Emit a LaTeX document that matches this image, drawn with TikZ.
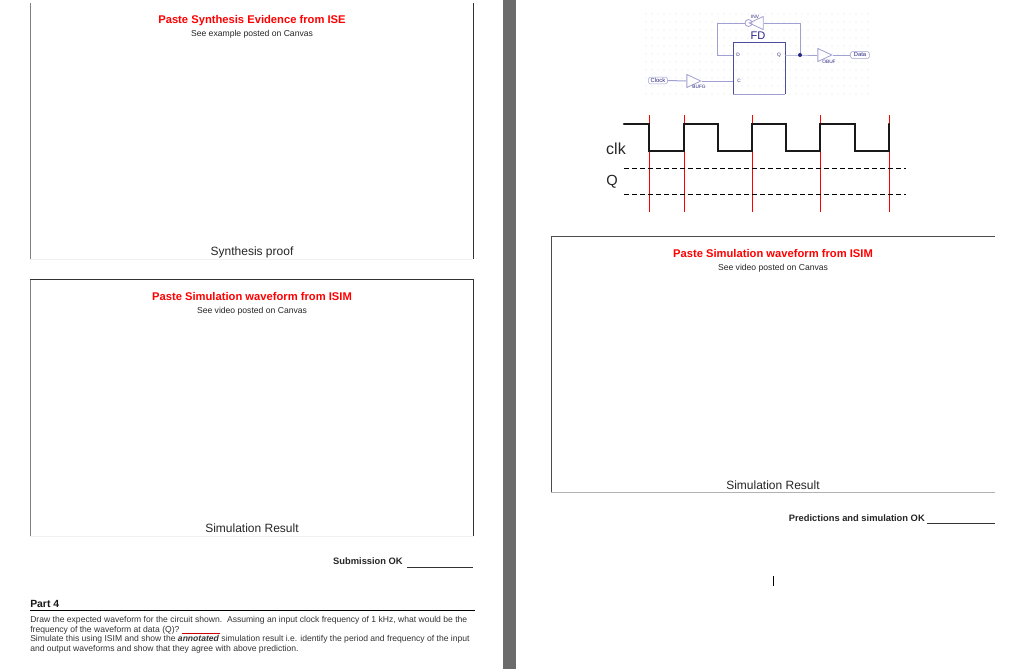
\documentclass[tikz,border=0pt]{standalone}
\usepackage{fontspec}
\setmainfont{Liberation Sans}
\usetikzlibrary{calc}
\usetikzlibrary{shapes.geometric}
\definecolor{schem}{RGB}{160,160,210}
\definecolor{schemdark}{RGB}{40,40,130}
\tikzset{
  title/.style={text=red,font=\bfseries\fontsize{8.4}{10}\selectfont,inner sep=0pt},
  hint/.style={text=black!85,font=\fontsize{6.45}{7.5}\selectfont,inner sep=0pt},
  caption/.style={text=black!85,font=\fontsize{9}{10}\selectfont,inner sep=0pt},
  okline/.style={text=black!85,font=\bfseries\fontsize{7}{8}\selectfont,inner sep=0pt},
  wire/.style={schem,line width=.75pt},
  buf/.style={draw=schem,line width=.6pt,isosceles triangle,isosceles triangle apex angle=50,minimum height=13*.75pt,minimum width=13*.75pt,inner sep=0pt},
  pin/.style={text=schemdark,font=\fontsize{3.6}{4}\selectfont,inner sep=0pt},
  port/.style={draw=schem,rounded corners=1pt,text=schemdark,font=\fontsize{4.4}{5}\selectfont,inner sep=0pt,minimum width=14pt,minimum height=5pt},
  clkline/.style={black!90,line width=1.8pt,line cap=round,line join=miter},
  qline/.style={black,line width=.6pt,dash pattern=on 3.5pt off 2.5pt}
}
\begin{document}
\begin{tikzpicture}[x=.75pt,y=-.75pt]
\useasboundingbox (0,0) rectangle (1024,669);
\fill[white] (0,0) rectangle (1024,669);
\fill[black!58] (503,0) rectangle (516,669);
% left page
\draw[black!50,line width=.6pt] (30,259)--(30,3);
\draw[black!80,line width=.6pt] (473,3)--(473,259);
\draw[black!6,line width=.6pt] (30,259)--(473,259);
\draw[black!50,line width=.6pt] (30,536)--(30,279);
\draw[black!80,line width=.6pt] (30,279)--(473,279)--(473,536);
\draw[black!6,line width=.6pt] (30,536)--(473,536);
\node[title] (synthtitle) at (252,20.5) {Paste Synthesis Evidence from ISE};
\node[hint] (synthhint) at (252,34.5) {See example posted on Canvas};
\node[caption] (synthcap) at (252,252.5) {Synthesis proof};
\node[title] (simtitle) at (252,296.5) {Paste Simulation waveform from ISIM};
\node[hint] (simhint) at (252,311.5) {See video posted on Canvas};
\node[caption] (simcap) at (252,528.5) {Simulation Result};
\node[okline,anchor=east] (subok) at (403,561.5) {Submission OK};
\draw[black!80,line width=.5pt] (407,567)--(473,567);
\node[anchor=west,inner sep=0pt,text=black!90,font=\bfseries\fontsize{7.8}{9}\selectfont] (parttitle) at (30,603.5) {Part 4};
\draw[black,line width=.75pt] (30,610.5)--(475,610.5);
\node[anchor=north west,inner sep=0pt,text=black!80,align=left,font=\fontsize{6.43}{7.3}\selectfont] (parttext) at (30,615.8) {Draw the expected waveform for the circuit shown.\ \ Assuming an input clock frequency of 1 kHz, what would be the\\
frequency of the waveform at data (Q)?\\
Simulate this using ISIM and show the \textbf{\textit{annotated}} simulation result i.e. identify the period and frequency of the input\\
and output waveforms and show that they agree with above prediction.};
\draw[red!80!black,line width=.5pt] (182,633.5)--(220,633.5);
% right page
\draw[black!70,line width=.6pt] (551,492)--(551,236)--(995,236);
\draw[black!30,line width=.7pt] (551,492)--(995,492);
\node[title] (waveh) at (773,253.5) {Paste Simulation waveform from ISIM};
\node[hint] (wavehint) at (773,268.5) {See video posted on Canvas};
\node[caption] (wavecap) at (773,485.5) {Simulation Result};
\node[okline,anchor=east] (predok) at (925,518.5) {Predictions and simulation OK};
\draw[black!80,line width=.5pt] (927,523.5)--(995,523.5);
\draw[black,line width=.75pt] (773,576)--(773,586);
% schematic
\foreach \y in {14,22,...,94} {
 \foreach \x in {646,652,...,870} {
  \fill[black!32] (\x,\y) circle (.35pt);
 }
}
\node[pin,font=\fontsize{8.3}{9}\selectfont] (fdname) at (758,36) {FD};
\draw[schem,line width=.7pt] (785,94)--(733,94);
\draw[schemdark!70!schem,line width=.7pt] (733,94)--(733,42)--(785,42)--(785,94);
\node[buf,shape border rotate=180] (inv) at (759,23) {};
\draw[draw=schem,line width=.6pt] (748.5,23) circle (3.5*.75pt);
\node[pin] (invname) at (755,17) {INV};
\node[buf] (bufg) at (691,81) {};
\node[pin,anchor=north] (bufgname) at (699,85) {BUFG};
\node[buf] (obuf) at (822,55) {};
\node[pin,anchor=north] (obufname) at (829,60) {OBUF};
\node[pin] (dpin) at (738,55) {D};
\node[pin] (qpin) at (779,55) {Q};
\node[pin] (cpin) at (739,81) {C};
\node[port] (clock) at (658,80.5) {Clock};
\node[port] (data) at (860,55) {Data};
\coordinate (dnode) at (733,55);
\coordinate (qnode) at (785,55);
\coordinate (cnode) at (733,81);
\coordinate (invin) at (745,23);
\coordinate (tap) at (800,55);
\draw[wire] (clock.east)--(bufg.west);
\draw[wire] (bufg.apex)--(cnode);
\draw[wire] (invin)-|(717,55)--(dnode);
\draw[wire] (inv.east)-|(tap);
\draw[wire] (qnode)--(tap)--(obuf.west);
\draw[wire] (obuf.apex)--(data.west);
\fill[schemdark] (tap) circle (1.5pt);
% waveform
\foreach \x/\w in {649/.5,684/.7,752/.7,820/.7,889/.5} {
 \draw[red,line width=\w pt] (\x,115)--(\x,212);
}
\draw[clkline] (624,124)--(649,124)--(649,151)--(684,151)--(684,124)--(718,124)--(718,151)--(752,151)--(752,124)--(786,124)--(786,151)--(820,151)--(820,124)--(855,124)--(855,151)--(889,151)--(889,124);
\draw[qline] (624,168)--(906,168);
\draw[qline] (624,194)--(906,194);
\node[inner sep=0pt,text=black!85,font=\fontsize{12}{14}\selectfont] (clklabel) at (616,149) {clk};
\node[inner sep=0pt,text=black!85,font=\fontsize{11}{14}\selectfont] (qlabel) at (612,181.5) {Q};
\end{tikzpicture}
\end{document}
